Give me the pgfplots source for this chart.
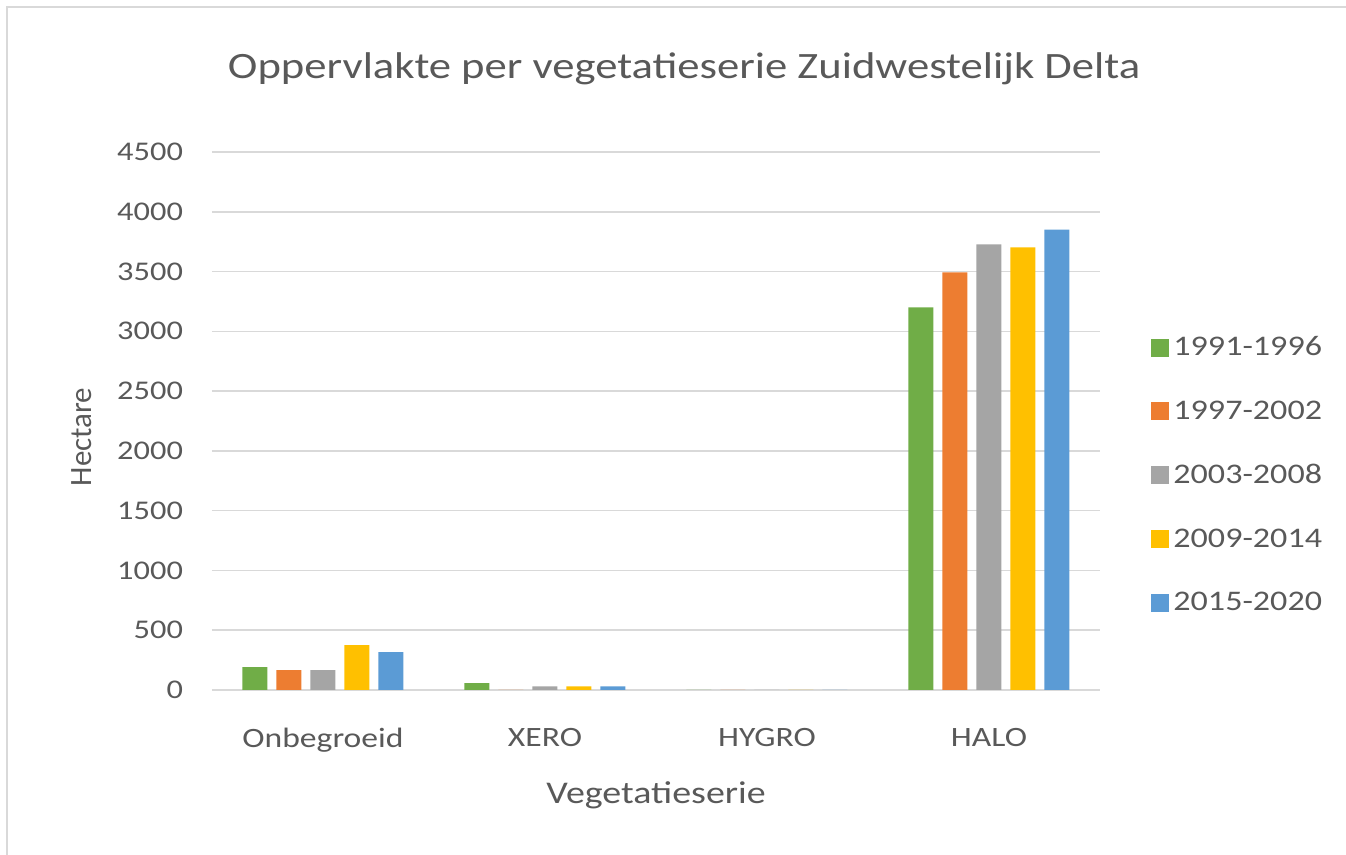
\documentclass[border=0pt]{standalone}
\usepackage{pgfplots}
\pgfplotsset{compat=1.18}
\usepackage{fontspec}
\setmainfont{Carlito}[FakeStretch=1.2]
\newfontfamily\plainfont{Carlito}
\definecolor{cgreen}{HTML}{70AD47}
\definecolor{corange}{HTML}{ED7D31}
\definecolor{cgray}{HTML}{A5A5A5}
\definecolor{cyellow}{HTML}{FFC000}
\definecolor{cblue}{HTML}{5B9BD5}
\definecolor{ctext}{HTML}{595959}
\definecolor{cgrid}{HTML}{D9D9D9}
\begin{document}
\begin{tikzpicture}
\useasboundingbox (0,0) rectangle (673pt,427.5pt);
\draw[cgrid, line width=1pt] (3.5pt,0) -- (3.5pt,424pt) -- (673pt,424pt);
\node[text=ctext, font=\fontsize{18.6}{22}\selectfont] at (342pt,393pt) {Oppervlakte per vegetatieserie Zuidwestelijk Delta};
\begin{axis}[
  at={(106pt,82.5pt)}, anchor=south west,
  scale only axis, width=444pt, height=269pt,
  ybar=4.5pt, bar width=12.5pt,
  xmin=-0.5, xmax=3.5, ymin=0, ymax=4500,
  xtick={0,1,2,3},
  xticklabels={Onbegroeid,XERO,HYGRO,HALO},
  ytick={0,500,...,4500},
  axis line style={draw=none},
  axis x line*=bottom,
  major tick length=0pt,
  ymajorgrids, grid style={cgrid, line width=0.8pt},
  tick label style={text=ctext, font=\fontsize{13.5}{16}\selectfont},
  xticklabel style={font=\fontsize{14}{16}\selectfont, yshift=-15.5pt},
  /pgf/number format/assume math mode=true,
  /pgf/number format/1000 sep={},
  yticklabel style={xshift=-11pt},
  xlabel={Vegetatieserie}, ylabel={Hectare},
  xlabel style={text=ctext, font=\fontsize{15.8}{18}\selectfont, yshift=-8pt},
  ylabel style={text=ctext, font=\plainfont\fontsize{15.5}{18}\selectfont, yshift=6pt, xshift=-8pt},
  legend style={at={(1.0507,0.3996)}, anchor=west, draw=none, fill=none,
    font=\fontsize{14.2}{16}\selectfont, text=ctext,
    /tikz/every even column/.append style={column sep=0pt},
    row sep=17pt},
  legend cell align=left,
  legend image code/.code={\fill[#1] (0pt,-4.5pt) rectangle (9pt,4.5pt);},
  extra y ticks={0}, extra y tick labels={},
  extra y tick style={grid style={cgrid, line width=1.2pt}},
  clip=false,
]
\addplot[fill=cgreen, draw=none] coordinates {(0,192) (1,58) (2,0) (3,3200)};
\addplot[fill=corange, draw=none] coordinates {(0,167) (1,0) (2,0) (3,3494)};
\addplot[fill=cgray, draw=none] coordinates {(0,167) (1,30) (2,0) (3,3728)};
\addplot[fill=cyellow, draw=none] coordinates {(0,375) (1,30) (2,0) (3,3703)};
\addplot[fill=cblue, draw=none] coordinates {(0,317) (1,30) (2,0) (3,3850)};
\legend{1991-1996,1997-2002,2003-2008,2009-2014,2015-2020}
\end{axis}
\end{tikzpicture}
\end{document}
